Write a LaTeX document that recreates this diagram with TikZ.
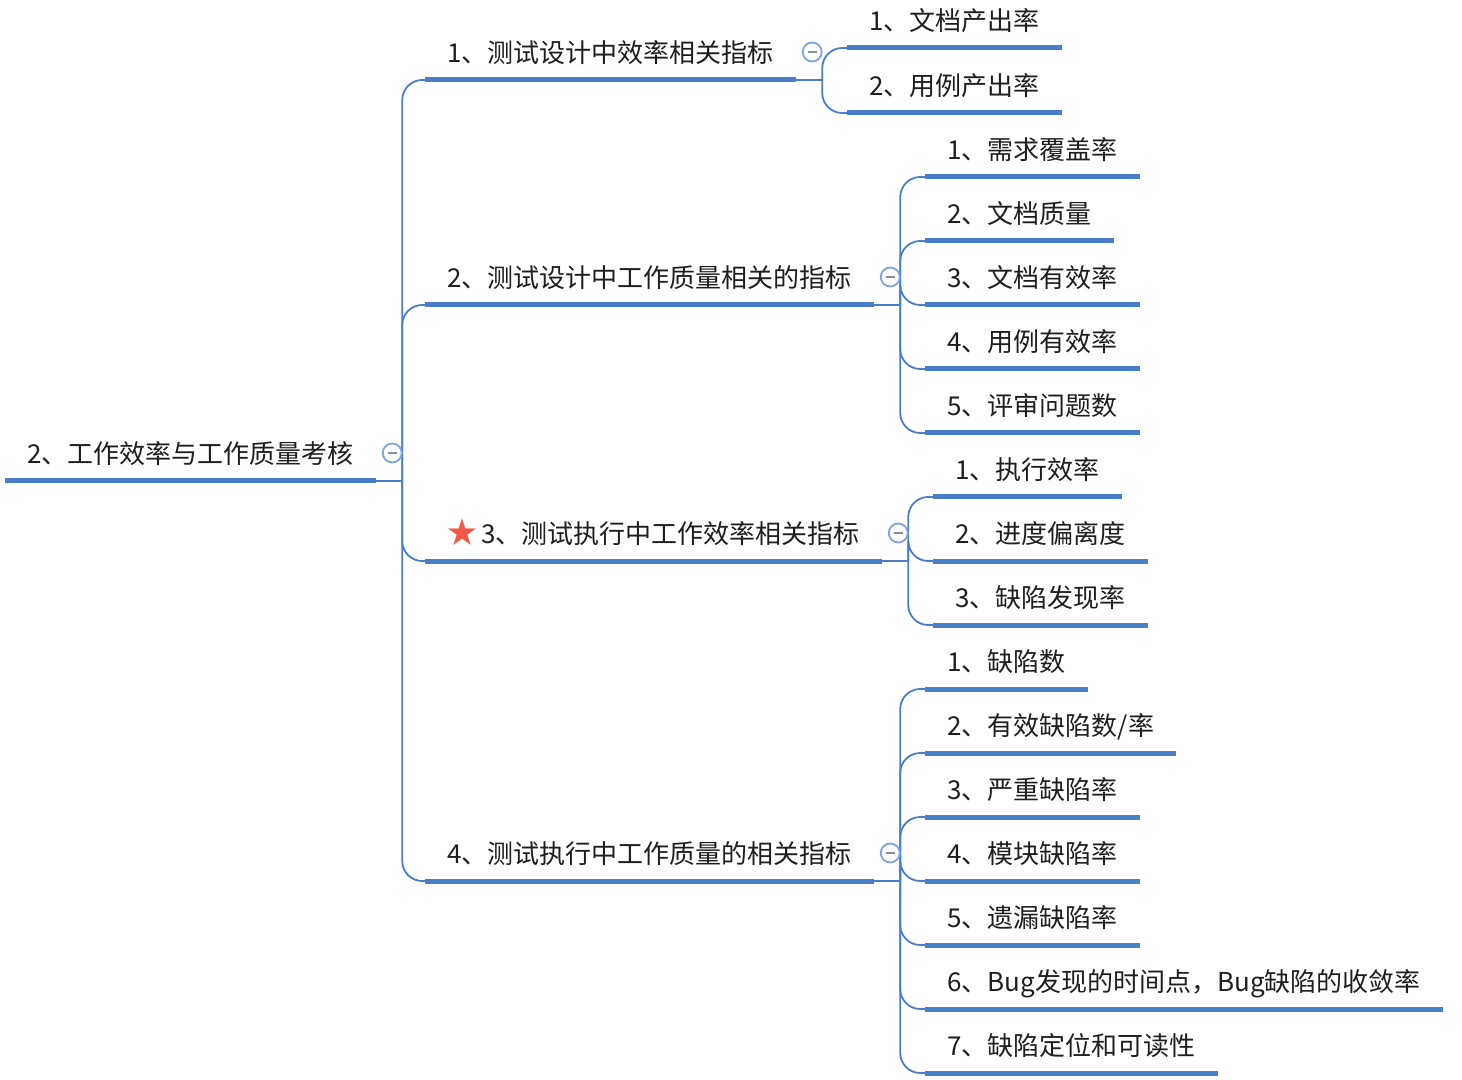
\documentclass[tikz,border=0pt]{standalone}
\usepackage{fontspec}
\newfontfamily\cjk{Noto Sans CJK SC}
\usetikzlibrary{calc}

\definecolor{linkblue}{HTML}{4A7EC8}
\definecolor{foldblue}{HTML}{7FA5DA}
\definecolor{foldgrey}{HTML}{8C8C9C}
\definecolor{starred}{HTML}{F25A46}
\definecolor{inkgrey}{HTML}{1E1E1E}

\begin{document}
\begin{tikzpicture}[
  x=0.5pt, y=0.5pt,
  topic/.style={anchor=south west, inner xsep=11pt, inner ysep=0pt,
                text height=11pt, text depth=8.6pt, text=inkgrey,
                font=\cjk\fontsize{13pt}{15pt}\selectfont},
  uline/.style={draw=linkblue, line width=2.5pt},
  link/.style={draw=linkblue, line width=0.9pt, rounded corners=10pt},
  fold/.style={circle, draw=foldblue, line width=0.9pt, fill=white,
               minimum size=9.5pt, inner sep=0pt,
               path picture={\draw[foldgrey, line width=0.9pt]
                 ([xshift=2.4pt]path picture bounding box.west) --
                 ([xshift=-2.4pt]path picture bounding box.east);}}]
  \useasboundingbox (0,0) rectangle (1462,-1080);
  % root
  \node[topic] (root) at (5,-481) {2、工作效率与工作质量考核};
  % level 1
  \node[topic] (eff) at (425,-80)  {1、测试设计中效率相关指标};
  \node[topic] (dq)  at (425,-305) {2、测试设计中工作质量相关的指标};
  \node[topic] (ee)  at (425,-561) {{\color{starred}\fontsize{15pt}{15pt}\selectfont ★}\hspace{2pt}3、测试执行中工作效率相关指标};
  \node[topic] (eq)  at (425,-881) {4、测试执行中工作质量的相关指标};
  % level 2 -- efficiency in design
  \node[topic] (eff1) at (847,-48)  {1、文档产出率};
  \node[topic] (eff2) at (847,-113) {2、用例产出率};
  % level 2 -- quality in design
  \node[topic] (dq1) at (925,-177) {1、需求覆盖率};
  \node[topic] (dq2) at (925,-241) {2、文档质量};
  \node[topic] (dq3) at (925,-305) {3、文档有效率};
  \node[topic] (dq4) at (925,-369) {4、用例有效率};
  \node[topic] (dq5) at (925,-433) {5、评审问题数};
  % level 2 -- efficiency in execution
  \node[topic] (ee1) at (933,-497) {1、执行效率};
  \node[topic] (ee2) at (933,-561) {2、进度偏离度};
  \node[topic] (ee3) at (933,-625) {3、缺陷发现率};
  % level 2 -- quality in execution
  \node[topic] (eq1) at (925,-689)  {1、缺陷数};
  \node[topic] (eq2) at (925,-753)  {2、有效缺陷数/率};
  \node[topic] (eq3) at (925,-817)  {3、严重缺陷率};
  \node[topic] (eq4) at (925,-881)  {4、模块缺陷率};
  \node[topic] (eq5) at (925,-945)  {5、遗漏缺陷率};
  \node[topic] (eq6) at (925,-1009) {6、Bug发现的时间点，Bug缺陷的收敛率};
  \node[topic] (eq7) at (925,-1073) {7、缺陷定位和可读性};
  % underlines
  \foreach \n in {root, eff, dq, ee, eq, eff1, eff2, dq1, dq2, dq3, dq4, dq5,
                  ee1, ee2, ee3, eq1, eq2, eq3, eq4, eq5, eq6, eq7}
    \draw[uline] (\n.south west) -- (\n.south east);
  % links
  \foreach \p/\kids in {root/{eff,dq,ee,eq}, eff/{eff1,eff2},
                        dq/{dq1,dq2,dq3,dq4,dq5}, ee/{ee1,ee2,ee3},
                        eq/{eq1,eq2,eq3,eq4,eq5,eq6,eq7}} {
    \draw[link] (\p.south east) -- ++(26,0) coordinate (\p J);
    \foreach \c in \kids
      \draw[link] (\p J) |- (\c.south west);
  }
  % fold markers
  \foreach \p in {root, eff, dq, ee, eq}
    \node[fold] (\p F) at ($(\p.south east)+(16,28)$) {};
\end{tikzpicture}
\end{document}
